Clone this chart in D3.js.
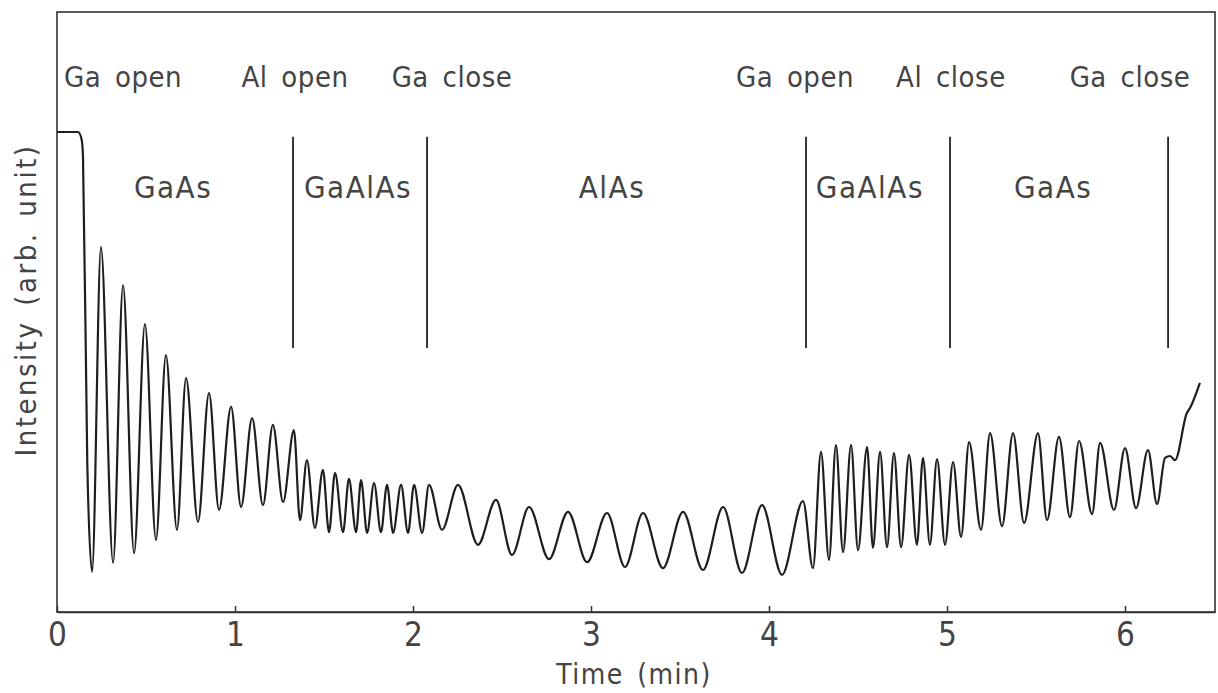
<!DOCTYPE html>
<html>
<head>
<meta charset="utf-8">
<script src="https://cdn.jsdelivr.net/npm/d3@7"></script>
<style>
  body { margin: 0; background: #fff; }
  text { font-family: "Liberation Sans Narrow", "DejaVu Sans Condensed", "Liberation Sans", sans-serif; fill: #444; }
</style>
</head>
<body>
<svg id="chart" width="1218" height="693"></svg>
<script>
// RHEED intensity trace (time in min, intensity in arb. units 0-100)
const time = [
  0, 0.118, 0.138, 0.146, 0.170, 0.197,
  0.247, 0.315, 0.371, 0.433, 0.494, 0.556, 0.612, 0.674, 0.725, 0.792,
  0.854, 0.910, 0.978, 1.034, 1.096, 1.157, 1.213, 1.270, 1.331,
  1.365, 1.404, 1.449, 1.494, 1.528, 1.562, 1.607, 1.640, 1.680, 1.708,
  1.742, 1.781, 1.820, 1.854, 1.888, 1.933, 1.972, 2.006, 2.051, 2.090,
  2.163, 2.253, 2.365, 2.466, 2.556, 2.652, 2.764, 2.871, 2.978, 3.090,
  3.191, 3.292, 3.404, 3.517, 3.629, 3.742, 3.848, 3.961, 4.073, 4.191,
  4.247, 4.292, 4.337, 4.376, 4.416, 4.461, 4.500, 4.551, 4.584, 4.624,
  4.663, 4.702, 4.742, 4.787, 4.831, 4.865, 4.904, 4.944, 4.989, 5.034,
  5.079, 5.124, 5.191, 5.242, 5.309, 5.371, 5.433, 5.511, 5.562, 5.629,
  5.691, 5.742, 5.815, 5.860, 5.938, 6.000, 6.062, 6.129, 6.180, 6.225,
  6.253, 6.281, 6.348, 6.365, 6.421
];
const intensity = [
  80.0, 80.0, 78.8, 76.0, 25.0, 6.7,
  60.8, 8.2, 54.5, 9.8, 48.0, 12.0, 42.8, 13.7, 39.0, 15.0,
  36.5, 17.0, 34.2, 17.5, 32.3, 17.8, 31.2, 18.3, 30.3,
  15.3, 25.3, 14.0, 23.7, 13.3, 23.2, 13.3, 22.2, 13.3, 22.0,
  13.2, 21.5, 13.3, 21.2, 13.2, 21.2, 13.2, 21.2, 13.2, 21.2,
  13.7, 21.2, 11.2, 18.7, 9.5, 17.5, 8.8, 16.7, 8.3, 16.5,
  7.5, 16.5, 7.3, 16.7, 7.0, 17.5, 6.5, 17.8, 6.2, 18.5,
  7.3, 26.7, 8.7, 27.8, 10.0, 27.8, 10.3, 27.5, 10.7, 26.7,
  10.8, 26.5, 10.8, 26.2, 11.2, 25.7, 11.2, 25.5, 11.2, 25.0,
  12.5, 28.3, 13.7, 29.8, 14.3, 29.8, 14.8, 29.8, 15.3, 29.2,
  15.8, 28.5, 16.3, 28.2, 17.0, 27.3, 17.3, 27.0, 18.0, 25.7,
  26.0, 25.3, 33.2, 34.0, 38.2
];

// shutter events (vertical markers) and what grows between them
const boundaryTimes = [1.326, 2.079, 4.208, 5.017, 6.242];
const eventLabels = ["Ga open", "Al open", "Ga close", "Ga open", "Al close", "Ga close"];
const eventLabelTimes = [0.371, 1.337, 2.219, 4.146, 5.022, 6.028];
const layerLabels = ["GaAs", "GaAlAs", "AlAs", "GaAlAs", "GaAs"];
const layerLabelTimes = [0.652, 1.691, 3.118, 4.567, 5.596];
const xTicks = [0, 1, 2, 3, 4, 5, 6];

const svg = d3.select("#chart");
const plotLeft = 57, plotRight = 1215, plotTop = 12, plotBottom = 612;

const x = d3.scaleLinear().domain([0, (plotRight - plotLeft) / 178]).range([plotLeft, plotRight]);
const y = d3.scaleLinear().domain([0, 100]).range([plotBottom, plotTop]);

// frame
svg.append("rect")
  .attr("x", plotLeft).attr("y", plotTop)
  .attr("width", plotRight - plotLeft).attr("height", plotBottom - plotTop)
  .attr("fill", "none")
  .attr("stroke", "#333")
  .attr("stroke-width", 1.6);

// x axis, ticks pointing inward
const xAxis = svg.append("g")
  .attr("class", "x-axis")
  .attr("transform", `translate(0,${plotBottom})`)
  .call(d3.axisBottom(x).tickValues(xTicks).tickSizeInner(-6).tickSizeOuter(0).tickPadding(11).tickFormat(d3.format("d")));
xAxis.select(".domain").attr("stroke", "#333").attr("stroke-width", 1.6);
xAxis.selectAll(".tick line").attr("stroke", "#333").attr("stroke-width", 1.5);
xAxis.attr("font-family", null);
xAxis.selectAll(".tick text")
  .attr("font-size", 33)
  .attr("fill", "#444");

svg.append("text")
  .attr("x", 634).attr("y", 684)
  .attr("text-anchor", "middle")
  .attr("font-size", 28)
  .attr("letter-spacing", 1.5)
  .attr("word-spacing", 4)
  .text("Time (min)");

svg.append("text")
  .attr("transform", `translate(36,${300}) rotate(-90)`)
  .attr("text-anchor", "middle")
  .attr("font-size", 29)
  .attr("letter-spacing", 2.5)
  .attr("word-spacing", 4)
  .text("Intensity (arb. unit)");

// boundary markers
svg.selectAll(".marker")
  .data(boundaryTimes)
  .enter()
  .append("line")
  .attr("class", "marker")
  .attr("x1", (d) => x(d))
  .attr("x2", (d) => x(d))
  .attr("y1", y(79.2))
  .attr("y2", y(44.0))
  .attr("stroke", "#222")
  .attr("stroke-width", 1.8);

svg.selectAll(".event")
  .data(eventLabels)
  .enter()
  .append("text")
  .attr("class", "event")
  .attr("x", (d, i) => x(eventLabelTimes[i]))
  .attr("y", y(87.5))
  .attr("text-anchor", "middle")
  .attr("font-size", 29)
  .attr("letter-spacing", 0.5)
  .attr("word-spacing", 5)
  .text((d) => d);

svg.selectAll(".layer")
  .data(layerLabels)
  .enter()
  .append("text")
  .attr("class", "layer")
  .attr("x", (d, i) => x(layerLabelTimes[i]))
  .attr("y", y(69.0))
  .attr("text-anchor", "middle")
  .attr("font-size", 31)
  .attr("letter-spacing", 1.5)
  .text((d) => d);

// trace
const points = time.map((t, i) => [t, intensity[i]]);
const line = d3.line()
  .x((d) => x(d[0]))
  .y((d) => y(d[1]))
  .curve(d3.curveMonotoneX);

svg.append("path")
  .datum(points)
  .attr("d", line)
  .attr("fill", "none")
  .attr("stroke", "#1e1e1e")
  .attr("stroke-width", 2.2)
  .attr("stroke-linejoin", "round");
</script>
</body>
</html>
